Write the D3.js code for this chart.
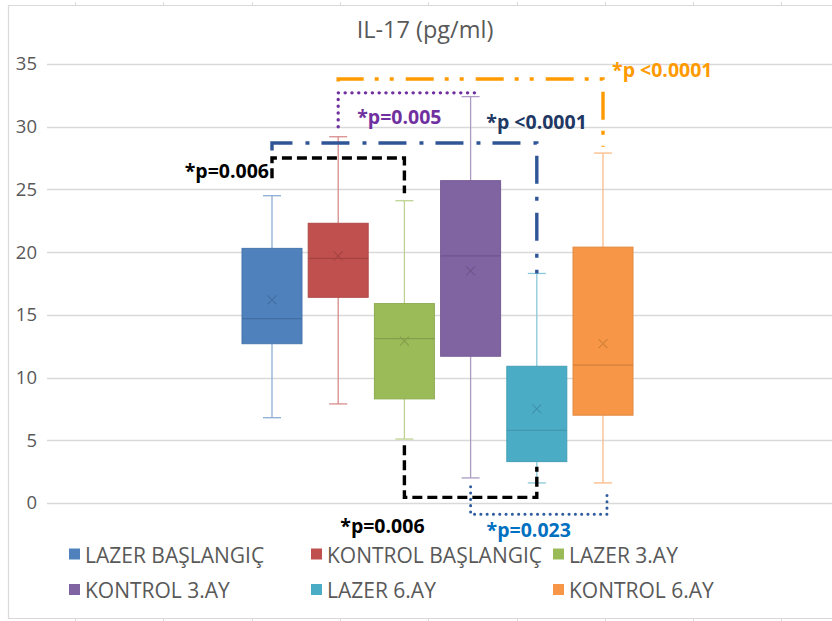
<!DOCTYPE html>
<html>
<head>
<meta charset="utf-8">
<script src="https://cdn.jsdelivr.net/npm/d3@7"></script>
<style>
  html, body { margin: 0; padding: 0; background: #fff; }
  svg { display: block; font-family: "Open Sans", "Liberation Sans", sans-serif; }
</style>
</head>
<body>
<svg id="chart" width="832" height="621"></svg>
<script>
// ---------------- data ----------------
const categories = ["LAZER BAŞLANGIÇ", "KONTROL BAŞLANGIÇ", "LAZER 3.AY", "KONTROL 3.AY", "LAZER 6.AY", "KONTROL 6.AY"];
const whiskerLow  = [6.8, 7.9, 5.1, 2.0, 1.6, 1.6];
const q1Values    = [12.7, 16.4, 8.3, 11.7, 3.3, 7.0];
const medianVals  = [14.7, 19.5, 13.1, 19.7, 5.8, 11.0];
const q3Values    = [20.3, 22.3, 15.9, 25.7, 10.9, 20.4];
const whiskerHigh = [24.5, 29.2, 24.1, 32.4, 18.3, 27.9];
const meanValues  = [16.2, 19.7, 12.9, 18.5, 7.5, 12.7];
const seriesColors = ["#4F81BD", "#C0504D", "#9BBB59", "#8064A2", "#4BACC6", "#F79646"];
const yTicks = [0, 5, 10, 15, 20, 25, 30, 35];
const title = "IL-17 (pg/ml)";

// significance brackets: from / to series index, bar level, left and right end values
const bracketFrom  = [1, 1, 0, 0, 2, 3];
const bracketTo    = [5, 3.09, 4, 2, 4, 5.06];
const bracketLevel = [33.8, 32.7, 28.7, 27.5, 0.45, -0.9];
const bracketLeft  = [33.6, 30.0, 28.1, 25.9, 4.6, 1.3];
const bracketRight = [28.4, 32.7, 18.3, 24.7, 2.9, 0.9];
const bracketLabels = ["*p <0.0001", "*p=0.005", "*p <0.0001", "*p=0.006", "*p=0.006", "*p=0.023"];

// ---------------- styles ----------------
const lineColors  = ["#FF9A00", "#7030A0", "#2F5597", "#000000", "#000000", "#2E5C9E"];
const labelColors = ["#FF9A00", "#7030A0", "#1F3864", "#000000", "#000000", "#0070C0"];
const dashes = ["28,11,4,11,4,12", "0.1,6.7", "28,13,4,12", "10,5", "10,5", "0.1,6.2"];
const caps   = ["butt", "round", "butt", "butt", "butt", "round"];
const widths = [3.4, 3.4, 3.4, 3.4, 3.4, 3];

const svg = d3.select("#chart");
const W = 832, H = 621;
const plotLeft = 47, plotRight = 832;

const y = d3.scaleLinear().domain([0, 35]).range([503, 64]);
const x = d3.scaleBand().domain(categories).range([242, 633]).paddingInner(0.094).paddingOuter(0);
const bw = x.bandwidth();
const xc = c => x(c) + bw / 2;
const xi = d3.scaleLinear().domain([0, 5]).range([xc(categories[0]), xc(categories[5])]);

// outer chart border and sheet ticks
const gridC = "#D9D9D9";
svg.append("path")
  .attr("d", `M${W + 2},5.5 H8.5 V618.5 H${W + 2}`)
  .attr("fill", "none").attr("stroke", gridC).attr("stroke-width", 1.2);
const sheetTicks = d3.range(75, W, 88.3);
svg.append("g").selectAll("line").data(sheetTicks).join("line")
  .attr("x1", d => Math.round(d) + 0.5).attr("x2", d => Math.round(d) + 0.5)
  .attr("y1", 2).attr("y2", 5).attr("stroke", gridC);
svg.append("g").selectAll("line").data(sheetTicks).join("line")
  .attr("x1", d => Math.round(d) + 0.5).attr("x2", d => Math.round(d) + 0.5)
  .attr("y1", 619).attr("y2", 621).attr("stroke", gridC);

// title
svg.append("text").attr("x", 425).attr("y", 38).attr("text-anchor", "middle")
  .attr("font-size", 23.5).attr("fill", "#595959").text(title);

// gridlines
svg.append("g").selectAll("line").data(yTicks).join("line")
  .attr("x1", plotLeft).attr("x2", plotRight)
  .attr("y1", d => Math.round(y(d)) + 0.5).attr("y2", d => Math.round(y(d)) + 0.5)
  .attr("stroke", gridC).attr("stroke-width", 1.3);

// y axis labels via d3 axis
const yAxis = d3.axisLeft(y).tickValues(yTicks).tickSize(0).tickPadding(0);
const gy = svg.append("g").attr("transform", "translate(37,0)").call(yAxis);
gy.select(".domain").remove();
gy.selectAll("text").attr("font-size", 18.5).attr("fill", "#595959")
  .attr("font-family", "'Open Sans', sans-serif");

// boxes
const boxes = svg.append("g");
categories.forEach((c, i) => {
  const col = seriesColors[i];
  const dark = d3.color(col).darker(0.45).formatHex();
  const light = d3.interpolateRgb(col, "#ffffff")(0.35);
  const cx = xc(c);
  const g = boxes.append("g");
  // whiskers
  g.append("line").attr("x1", cx).attr("x2", cx).attr("y1", y(whiskerHigh[i])).attr("y2", y(q3Values[i]))
    .attr("stroke", light).attr("stroke-width", 1.3);
  g.append("line").attr("x1", cx).attr("x2", cx).attr("y1", y(q1Values[i])).attr("y2", y(whiskerLow[i]))
    .attr("stroke", light).attr("stroke-width", 1.3);
  [whiskerHigh[i], whiskerLow[i]].forEach(v => {
    g.append("line").attr("x1", cx - 9).attr("x2", cx + 9).attr("y1", y(v)).attr("y2", y(v))
      .attr("stroke", light).attr("stroke-width", 1.3);
  });
  // box
  g.append("rect").attr("x", x(c)).attr("y", y(q3Values[i]))
    .attr("width", bw).attr("height", y(q1Values[i]) - y(q3Values[i]))
    .attr("fill", col).attr("stroke", d3.color(col).darker(0.25).formatHex()).attr("stroke-width", 1);
  // median
  g.append("line").attr("x1", x(c)).attr("x2", x(c) + bw)
    .attr("y1", y(medianVals[i])).attr("y2", y(medianVals[i]))
    .attr("stroke", dark).attr("stroke-width", 1.2);
  // mean marker
  const my = y(meanValues[i]), s = 4.5;
  g.append("path").attr("d", `M${cx - s},${my - s}L${cx + s},${my + s}M${cx - s},${my + s}L${cx + s},${my - s}`)
    .attr("stroke", dark).attr("stroke-width", 1.1).attr("fill", "none");
});

// brackets
const brackets = svg.append("g");
bracketLabels.forEach((lab, i) => {
  const x1 = xi(bracketFrom[i]), x2 = xi(bracketTo[i]);
  const yl = y(bracketLevel[i]);
  const d = `M${x1},${y(bracketLeft[i])} V${yl} H${x2} V${y(bracketRight[i])}`;
  brackets.append("path").attr("d", d).attr("fill", "none")
    .attr("stroke", lineColors[i]).attr("stroke-width", widths[i])
    .attr("stroke-dasharray", dashes[i]).attr("stroke-linecap", caps[i])
    .attr("stroke-linejoin", "miter");
});

// bracket labels
const labelPos = [
  (x1, x2, yl, yLft, yRgt) => ({ x: x2 + 9, y: yl - 2, a: "start" }),
  (x1, x2, yl, yLft, yRgt) => ({ x: x1 + 19, y: yLft - 3, a: "start" }),
  (x1, x2, yl, yLft, yRgt) => ({ x: x2 + 50, y: yl - 14, a: "end" }),
  (x1, x2, yl, yLft, yRgt) => ({ x: x1 - 3, y: yLft, a: "end" }),
  (x1, x2, yl, yLft, yRgt) => ({ x: x1 - 22, y: yl + 36, a: "middle" }),
  (x1, x2, yl, yLft, yRgt) => ({ x: x1 + 16, y: yl + 23, a: "start" })
];
bracketLabels.forEach((lab, i) => {
  const p = labelPos[i](xi(bracketFrom[i]), xi(bracketTo[i]), y(bracketLevel[i]), y(bracketLeft[i]), y(bracketRight[i]));
  svg.append("text").attr("x", p.x).attr("y", p.y).attr("text-anchor", p.a)
    .attr("font-size", 19.5).attr("font-weight", 700).attr("fill", labelColors[i]).text(lab);
});

// legend
const legendX = [69, 311, 553];
const legendY = [554, 589.5];
const legend = svg.append("g");
categories.forEach((c, i) => {
  const lx = legendX[i % 3], ly = legendY[Math.floor(i / 3)];
  legend.append("rect").attr("x", lx).attr("y", ly - 5.5).attr("width", 11).attr("height", 11)
    .attr("fill", seriesColors[i]);
  legend.append("text").attr("x", lx + 16).attr("y", ly + 8.5)
    .attr("font-size", 21).attr("fill", "#595959").text(c);
});
</script>
</body>
</html>
